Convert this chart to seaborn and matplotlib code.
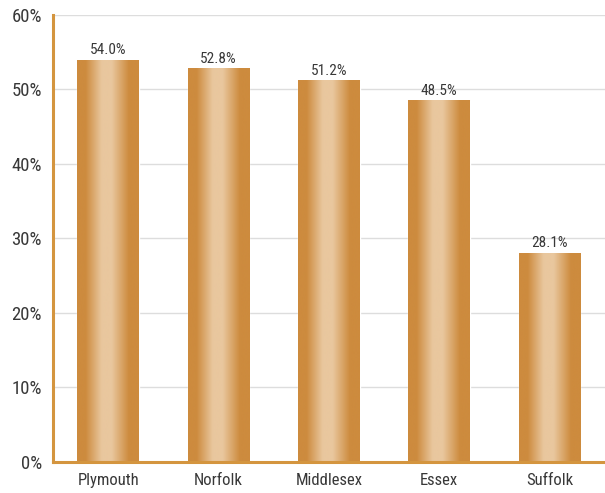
import numpy as np
import pandas as pd
import seaborn as sns
import matplotlib
matplotlib.use('Agg')
from matplotlib import pyplot as plt
from matplotlib import font_manager
from matplotlib.colors import LinearSegmentedColormap

counties = ['Plymouth', 'Norfolk', 'Middlesex', 'Essex', 'Suffolk']
shares = [54.0, 52.8, 51.2, 48.5, 28.1]
yticks = [0, 10, 20, 30, 40, 50, 60]

if __name__ == '__main__':
    sns.set_style('white')
    names = {f.name for f in font_manager.fontManager.ttflist}
    narrow = [n for n in ['Liberation Sans Narrow', 'Roboto Condensed',
                          'Open Sans Condensed'] if n in names]
    plt.rcParams['font.family'] = narrow + ['DejaVu Sans']
    plt.rcParams['font.stretch'] = 'condensed'
    text_color = '#383838'
    edge = '#CD8B3E'
    light = '#E9C79E'

    df = pd.DataFrame({'county': counties, 'share': shares})

    fig = plt.figure(figsize=(6.05, 4.93), dpi=100)
    ax = fig.add_axes([0.0876, 0.063, 0.912, 0.907])
    sns.barplot(data=df, x='county', y='share', color=edge, width=0.56,
                saturation=1, ax=ax, zorder=2)

    # cylinder-like horizontal gradient on each bar
    cmap = LinearSegmentedColormap.from_list(
        'bar', [(0, edge), (0.14, edge), (0.4, light), (0.56, light),
                (0.84, edge), (1, edge)], N=256)
    grad = np.linspace(0, 1, 256).reshape(1, -1)
    for p in ax.patches:
        x0, y0 = p.get_x(), p.get_y()
        w, h = p.get_width(), p.get_height()
        im = ax.imshow(grad, cmap=cmap, aspect='auto',
                       extent=[x0, x0 + w, y0, y0 + h], zorder=3)
        im.set_clip_path(p)
        ax.text(x0 + w / 2, y0 + h + 0.35, f'{h:.1f}%', ha='center',
                va='bottom', fontsize=11, color=text_color, zorder=4)

    ax.set_xlim(-0.5, 4.5)
    ax.set_ylim(0, 60)
    ax.set_yticks(yticks)
    ax.set_yticklabels([f'{t}%' for t in yticks])
    ax.yaxis.grid(True, color='#DDDDDD', linewidth=1, zorder=0)
    ax.set_axisbelow(True)
    ax.set_xlabel('')
    ax.set_ylabel('')
    ax.tick_params(axis='y', labelsize=13.5, colors=text_color, length=0, pad=8)
    ax.tick_params(axis='x', labelsize=12, colors=text_color, length=0, pad=8)

    for s in ['top', 'right']:
        ax.spines[s].set_visible(False)
    for s in ['left', 'bottom']:
        ax.spines[s].set_color('#D4953F')
        ax.spines[s].set_linewidth(2.2)
        ax.spines[s].set_zorder(5)

    plt.savefig('out.png', dpi=100)
